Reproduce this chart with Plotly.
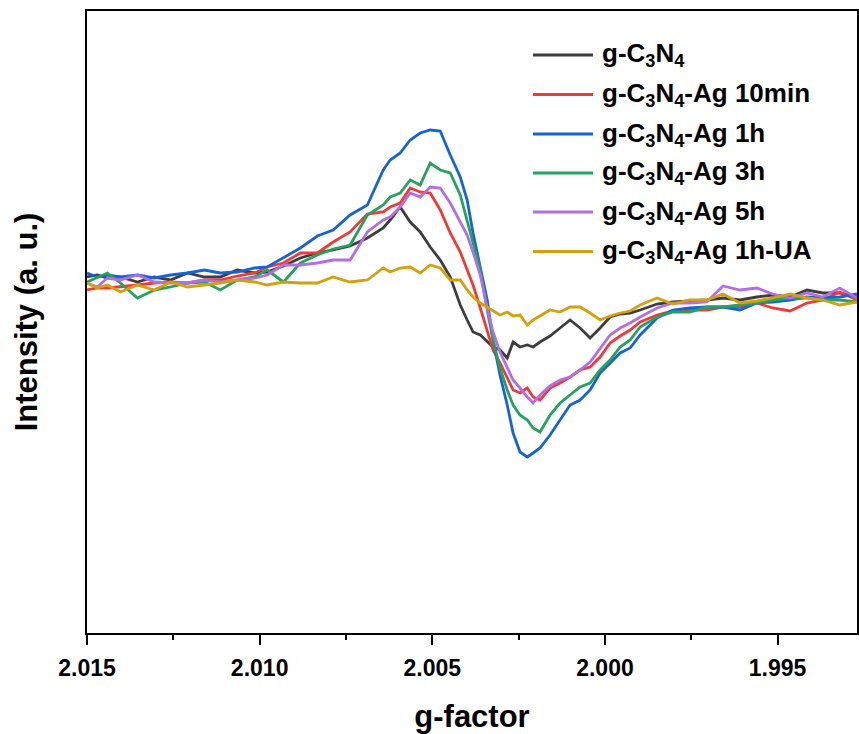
import plotly.graph_objects as go

# ---------------- data ----------------
g_factor = [2.0150, 2.01470, 2.01441, 2.01403, 2.01354, 2.01305, 2.01258, 2.01209, 2.01160, 2.01114,
            2.01065, 2.01015, 2.00978, 2.00931, 2.00882, 2.00833, 2.00787, 2.00738, 2.00688, 2.00642,
            2.00622, 2.00593, 2.00564, 2.00535, 2.00506, 2.00477, 2.00448, 2.00419, 2.00399, 2.00382,
            2.00361, 2.00341, 2.00324, 2.00304, 2.00283, 2.00266, 2.00246, 2.00225, 2.00208, 2.00188,
            2.00159, 2.00130, 2.00101, 2.00072, 2.00043, 2.00014, 1.99985, 1.99956, 1.99927, 1.99898,
            1.99849, 1.99803, 1.99754, 1.99705, 1.99658, 1.99609, 1.99560, 1.99514, 1.99464, 1.99415,
            1.99369, 1.99320, 1.99270]

gcn = [13, 15, 12, 13, 8, 13, 10, 17, 13, 13, 20, 17, 18, 24, 32, 37, 40, 44, 52, 62,
       70, 83, 68, 58, 43, 30, 13, -15, -30, -42, -45, -52, -57, -60, -68, -52, -57, -55, -57, -52,
       -46, -38, -30, -38, -48, -38, -27, -24, -23, -20, -14, -12, -11, -10, -8, -10, -7, -5, -7, 0,
       -3, -3, -7]

ag_10min = [0, 2, 2, 3, 5, 7, 8, 7, 10, 10, 14, 17, 23, 27, 37, 37, 48, 58, 76, 78,
            83, 87, 102, 98, 97, 80, 57, 38, 20, 5, -18, -40, -60, -73, -88, -100, -103, -98, -107, -110,
            -98, -93, -87, -80, -77, -67, -53, -46, -40, -32, -25, -21, -20, -20, -17, -17, -13, -18, -21, -13,
            -10, -2, -10]

ag_1h = [17, 13, 15, 13, 15, 12, 15, 17, 20, 17, 18, 22, 23, 32, 42, 54, 60, 75, 85, 120,
         130, 137, 150, 157, 160, 159, 135, 113, 90, 57, 23, -10, -50, -85, -115, -143, -162, -167, -163, -158,
         -145, -130, -115, -110, -100, -83, -73, -63, -58, -45, -28, -20, -18, -17, -17, -20, -13, -12, -10, -7,
         -8, -7, -4]

ag_3h = [8, 13, 17, 7, -8, 0, 3, 7, 8, 0, 10, 13, 20, 8, 27, 35, 41, 45, 75, 85,
         93, 97, 110, 105, 127, 120, 117, 95, 70, 48, 20, -20, -50, -78, -100, -115, -125, -130, -138, -142,
         -125, -113, -105, -97, -93, -80, -70, -57, -50, -37, -27, -22, -22, -17, -17, -15, -13, -10, -8, -8,
         -10, -10, -12]

ag_5h = [7, 3, 12, 10, 15, 8, 7, 7, 10, 8, 10, 12, 15, 25, 25, 27, 30, 30, 58, 70,
         73, 83, 97, 93, 103, 102, 87, 68, 55, 38, 15, -18, -42, -62, -78, -90, -98, -107, -113, -105,
         -96, -90, -87, -80, -72, -59, -45, -38, -33, -27, -18, -13, -13, -12, 4, 0, 2, -4, -8, -3,
         -7, 2, -8]

ag_1h_ua = [7, 2, 5, -2, 5, 0, 8, 3, 5, 7, 10, 8, 5, 8, 7, 7, 13, 8, 10, 22,
            18, 22, 23, 17, 25, 22, 10, 10, 0, -7, -13, -17, -21, -25, -22, -26, -25, -35, -30, -26,
            -20, -22, -17, -17, -23, -30, -26, -23, -21, -15, -8, -14, -10, -10, -4, -13, -11, -8, -4, -8,
            -10, -15, -12]

series_names = ["g-C<sub>3</sub>N<sub>4</sub>",
                "g-C<sub>3</sub>N<sub>4</sub>-Ag 10min",
                "g-C<sub>3</sub>N<sub>4</sub>-Ag 1h",
                "g-C<sub>3</sub>N<sub>4</sub>-Ag 3h",
                "g-C<sub>3</sub>N<sub>4</sub>-Ag 5h",
                "g-C<sub>3</sub>N<sub>4</sub>-Ag 1h-UA"]
series_values = [gcn, ag_10min, ag_1h, ag_3h, ag_5h, ag_1h_ua]
series_colors = ["#3d3d3d", "#f03a3a", "#1763d6", "#25a160", "#b46ee4", "#d3a00e"]

x_ticks = [2.015, 2.010, 2.005, 2.000, 1.995]
x_tick_labels = ["2.015", "2.010", "2.005", "2.000", "1.995"]

# ---------------- figure geometry ----------------
W, H = 859, 734
P_L, P_R, P_T, P_B = 87, 857, 11, 633   # plot frame, page pixels
ML, MT = P_L, P_T
MR = W - P_R
MB = H - P_B
FONT = "Liberation Sans, Arial, sans-serif"

fig = go.Figure()
for name, vals, col in zip(series_names, series_values, series_colors):
    fig.add_trace(go.Scatter(x=g_factor, y=vals, mode="lines", name=name,
                             line=dict(color=col, width=2.8), showlegend=False))

# legend drawn manually to match long legend strokes
pw = P_R - P_L
ph = P_B - P_T
def px2x(px):
    return (px - P_L) / pw
def py2y(py):
    return (P_B - py) / ph

row_y = [55, 94.5, 134, 173, 212, 251.5]
shapes = []
annotations = []
for name, col, ry in zip(series_names, series_colors, row_y):
    shapes.append(dict(type="line", xref="paper", yref="paper",
                       x0=px2x(533), x1=px2x(593), y0=py2y(ry), y1=py2y(ry),
                       line=dict(color=col, width=3)))
    annotations.append(dict(xref="paper", yref="paper", x=px2x(600), y=py2y(ry),
                            xanchor="left", yanchor="middle", showarrow=False,
                            text="<b>" + name + "</b>",
                            font=dict(family=FONT, size=26, color="black")))

fig.update_layout(
    width=W, height=H,
    margin=dict(l=ML, r=MR, t=MT, b=MB, autoexpand=False),
    paper_bgcolor="white", plot_bgcolor="white",
    font=dict(family=FONT, color="black"),
    shapes=shapes, annotations=annotations,
    showlegend=False,
)
fig.update_xaxes(
    range=[2.015, 1.9927], showgrid=False, zeroline=False, automargin=False,
    showline=True, linecolor="black", linewidth=2, mirror=True,
    ticks="outside", ticklen=10, tickwidth=2, tickcolor="black",
    tickvals=x_ticks, ticktext=["<b>%s</b>" % t for t in x_tick_labels],
    tickfont=dict(family=FONT, size=23, color="black"), ticklabelstandoff=3,
    minor=dict(ticks="outside", ticklen=5, tickwidth=2, tickcolor="black", dtick=0.0025, tick0=2.015),
    title=dict(text="<b>g-factor</b>", font=dict(family=FONT, size=31, color="black"), standoff=26),
)
fig.update_yaxes(
    range=[-343, 279], showgrid=False, zeroline=False, automargin=False,
    showline=True, linecolor="black", linewidth=2, mirror=True,
    ticks="", showticklabels=False,
    title=dict(text="<b>Intensity (a. u.)</b>", font=dict(family=FONT, size=31, color="black"), standoff=38),
)

fig.write_html("out.html", config={"displayModeBar": False},
               post_script="document.body.style.margin='0';document.body.style.overflow='hidden';")
